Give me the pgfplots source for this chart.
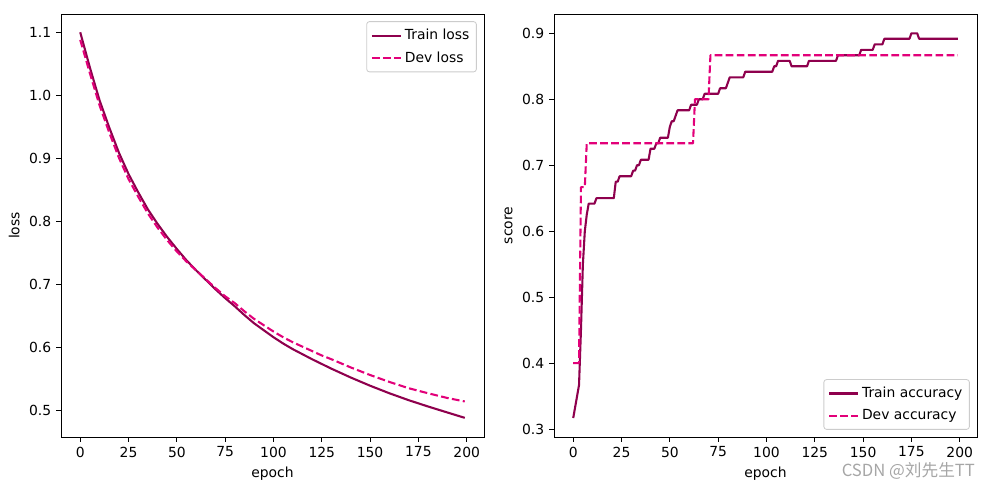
\documentclass[border=0pt]{standalone}
\usepackage{fontspec}
\setmainfont{DejaVu Sans}
\newfontfamily\cjk{Noto Sans CJK SC}
\usepackage{pgfplots}
\pgfplotsset{compat=1.18}
\usepackage{pgfplotstable}
\definecolor{trainc}{HTML}{8E004D}
\definecolor{devc}{HTML}{E20079}

\pgfplotstableread{
e v
0 1.100
5 1.044
10 0.992
15 0.949
20 0.909
25 0.875
30 0.846
35 0.819
40 0.796
45 0.775
50 0.756
55 0.738
60 0.722
65 0.707
70 0.692
75 0.678
80 0.665
85 0.651
90 0.638
95 0.627
100 0.616
105 0.606
110 0.597
115 0.589
120 0.581
125 0.5735
130 0.566
140 0.552
150 0.539
160 0.527
170 0.516
180 0.506
190 0.4965
199 0.488
}\trainloss

\pgfplotstableread{
e v
0 1.088
5 1.035
10 0.984
15 0.941
20 0.901
25 0.867
30 0.839
35 0.8125
40 0.790
45 0.770
50 0.752
55 0.736
60 0.722
65 0.708
70 0.694
75 0.681
80 0.670
85 0.657
90 0.645
95 0.635
100 0.625
105 0.616
110 0.608
115 0.601
120 0.594
125 0.587
130 0.581
140 0.568
150 0.556
160 0.545
170 0.535
180 0.527
190 0.5195
199 0.514
}\devloss

\pgfplotstableread{
e v
0 0.3167
1 0.3333
2 0.35
3 0.3667
4 0.45
5 0.55
6 0.6
7 0.625
8 0.6417
11 0.6417
12 0.65
21 0.65
22 0.675
23 0.675
24 0.6833
30 0.6833
31 0.6917
32 0.6917
33 0.7
34 0.7
35 0.7083
39 0.7083
40 0.725
42 0.725
43 0.7333
44 0.7333
45 0.7417
49 0.7417
50 0.7583
51 0.7667
52 0.7667
53 0.775
54 0.7833
60 0.7833
61 0.7917
64 0.7917
65 0.8
67 0.8
68 0.8083
75 0.8083
76 0.8167
79 0.8167
80 0.825
81 0.8333
88 0.8333
89 0.8417
103 0.8417
104 0.85
105 0.85
106 0.8583
112 0.8583
113 0.85
121 0.85
122 0.8583
136 0.8583
137 0.8667
148 0.8667
149 0.875
155 0.875
156 0.8833
160 0.8833
161 0.8917
174 0.8917
175 0.9
178 0.9
179 0.8917
199 0.8917
}\trainacc

\pgfplotstableread{
e v
0 0.4
3 0.4
4 0.6667
6 0.6667
7 0.7333
62 0.7333
63 0.8
70 0.8
71 0.8667
199 0.8667
}\devacc

\pgfplotsset{
  mpl/.style={
    scale only axis,
    width=304.56pt, height=304.56pt,
    anchor=south west,
    xmin=-9.95, xmax=208.95,
    xtick={0,25,...,200},
    tick pos=left,
    tick align=outside,
    major tick length=3.5pt,
    every tick/.style={black, line width=0.6pt},
    axis line style={line width=0.6pt},
    ticklabel style={font=\fontsize{10}{12}\selectfont},
    label style={font=\fontsize{10}{12}\selectfont},
    /pgf/number format/assume math mode=true,
    xlabel={epoch},
    legend cell align=left,
    legend image code/.code={\draw[##1] (0pt,0pt) -- (21pt,0pt);},
    legend style={draw=black!20, rounded corners=2pt, fill=white,
      font=\fontsize{10}{12}\selectfont, inner xsep=3pt, inner ysep=3.5pt,
      row sep=3pt, line width=0.6pt},
    yticklabel style={/pgf/number format/fixed, /pgf/number format/fixed zerofill, /pgf/number format/precision=1},
  },
  trainline/.style={color=trainc, line width=1.5pt, line join=round, mark=none},
  devline/.style={color=devc, line width=1.5pt, line join=round, mark=none, dash pattern=on 5.55pt off 2.4pt},
}

\begin{document}
\begin{tikzpicture}
\useasboundingbox (0,0) rectangle (712.8pt,352.8pt);
\begin{axis}[mpl, at={(43.92pt,38.16pt)},
  ymin=0.4576, ymax=1.129,
  ytick={0.5,0.6,...,1.1},
  ylabel={loss},
  legend style={at={(0.983,0.983)}, anchor=north east},
]
\addplot[trainline] table[x=e,y=v] {\trainloss};
\addlegendentry{Train loss}
\addplot[devline] table[x=e,y=v] {\devloss};
\addlegendentry{Dev loss}
\end{axis}
\begin{axis}[mpl, at={(398.88pt,38.16pt)},
  ymin=0.2879, ymax=0.9293,
  ytick={0.3,0.4,...,0.9},
  ylabel={score},
  legend style={at={(0.983,0.017)}, anchor=south east},
]
\addplot[trainline] table[x=e,y=v] {\trainacc};
\addlegendentry{Train accuracy}
\addplot[devline] table[x=e,y=v] {\devacc};
\addlegendentry{Dev accuracy}
\end{axis}
\node[text=black!35, font=\cjk\fontsize{12}{14}\selectfont] at (654pt,13.7pt) {CSDN @刘先生TT};
\end{tikzpicture}
\end{document}
